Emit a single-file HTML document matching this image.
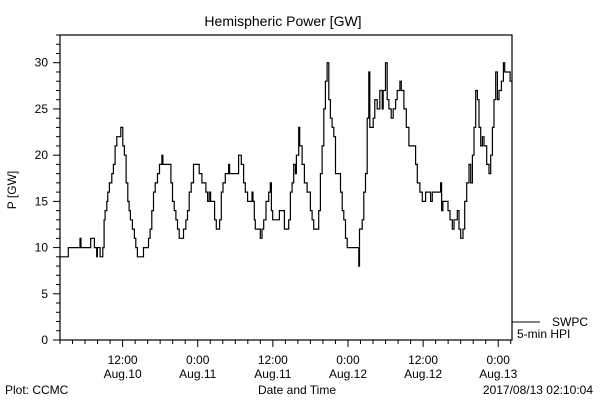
<!DOCTYPE html>
<html><head><meta charset="utf-8">
<style>
body{margin:0;background:#fff;}
svg{display:block;font-family:"Liberation Sans",sans-serif;}
text{fill:#000;font-size:12px;}
</style></head>
<body>
<svg id="chart" width="600" height="400" viewBox="0 0 600 400">
<rect x="0" y="0" width="600" height="400" fill="#fff"/>
<text x="283" y="26" text-anchor="middle" style="font-size:14px">Hemispheric Power [GW]</text>
<text x="16" y="190" text-anchor="middle" transform="rotate(-90 16 190)">P [GW]</text>
<text x="297" y="394" text-anchor="middle">Date and Time</text>
<text x="5" y="394">Plot: CCMC</text>
<text x="593" y="394" text-anchor="end">2017/08/13 02:10:04</text>
<g id="axes"></g>
<g id="series"></g>
<line x1="512" y1="322" x2="540" y2="322" stroke="#000"/>
<text x="552" y="326">SWPC</text>
<text x="517" y="338">5-min HPI</text>
</svg>
<script>
// hours since 2017-08-10 00:00
const times = [2.1,3.33,5.2,5.36,6.91,7.49,7.87,7.97,8.4,8.83,9.04,9.2,9.47,9.63,9.89,10.27,10.53,10.8,11.07,11.71,12.03,12.29,12.56,12.83,13.04,13.25,13.57,13.89,14.11,14.37,15.33,16.13,16.4,16.67,16.93,17.2,17.57,17.89,18.27,18.43,19.71,19.97,20.24,20.51,20.77,21.04,21.73,22.11,22.37,22.64,22.96,23.33,24.24,24.67,25.31,25.57,25.84,26.05,26.69,26.96,27.49,27.76,28.03,28.4,28.93,29.09,30.53,30.96,31.33,31.6,31.97,32.67,32.83,33.04,33.2,34.0,34.27,34.53,34.91,35.33,35.6,35.76,35.97,37.04,37.84,38.53,38.8,39.07,39.33,39.6,39.76,40.13,40.29,40.67,41.04,41.47,42.0,42.27,42.53,43.33,43.6,43.87,44.13,44.4,44.67,44.93,45.2,45.47,45.73,46.0,46.8,47.07,47.33,47.6,47.87,49.73,49.84,50.27,50.53,50.8,51.07,51.33,51.49,52.03,52.29,52.67,53.09,53.47,53.63,54.0,54.27,54.53,54.91,55.23,55.6,55.87,56.29,56.51,56.93,57.31,57.73,58.8,59.07,59.49,59.87,60.4,61.2,61.47,62.8,62.96,63.17,63.97,64.29,64.67,64.93,65.47,65.73,66.0,66.37,66.64,66.96,67.33,67.6,67.87,68.13,68.4,68.67,68.93,69.2,69.47,69.73,70.16,70.53,70.8,71.07,71.33,71.6,71.87,72.13,72.51,72.83,73.04,73.89];
const values = [9,10,11,10,11,10,9,10,9,10,13,14,15,16,17,18,19,21,22,23,21,20,17,15,14,13,12,11,10,9,10,11,12,14,16,17,18,19,20,19,17,15,14,13,12,11,12,13,14,16,17,19,18,17,16,15,16,15,13,12,13,16,17,18,19,18,20,19,17,16,15,16,15,13,12,11,12,13,15,16,17,14,13,14,12,13,16,17,19,18,20,23,21,19,17,16,14,13,12,14,18,21,25,28,30,26,24,23,22,18,16,14,13,11,10,8,12,13,16,18,24,29,23,24,26,25,27,25,27,30,26,25,24,25,26,27,28,27,25,23,21,19,17,16,15,16,15,16,17,14,15,14,13,12,13,14,12,11,12,15,17,19,17,20,23,27,26,23,21,22,21,19,18,20,23,26,29,26,27,28,30,29,28];
const yTickLabels = ["0","5","10","15","20","25","30"];
const xTickHours = [12,24,36,48,60,72];
const xTickLabels = [["12:00","Aug.10"],["0:00","Aug.11"],["12:00","Aug.11"],["0:00","Aug.12"],["12:00","Aug.12"],["0:00","Aug.13"]];

const L=60,R=512,T=35,B=340,H0=2.0,H1=74.2,YMAX=33;
const xs=h=>L+(h-H0)/(H1-H0)*(R-L);
const ys=v=>B-v/YMAX*(B-T);
const NS="http://www.w3.org/2000/svg";
const ax=document.getElementById('axes'), se=document.getElementById('series');
function mk(tag,attrs,parent){const e=document.createElementNS(NS,tag);for(const k in attrs)e.setAttribute(k,attrs[k]);parent.appendChild(e);return e;}

const frame=mk('rect',{x:L,y:T,width:R-L,height:B-T,fill:'none',stroke:'#000','stroke-width':1.2},ax);



for(let v=0;v<=YMAX;v++){
  const major=v%5===0;
  const t=mk('line',{x1:L-(major?7:4),x2:L,y1:ys(v),y2:ys(v),stroke:'#000'},ax);
  
  
}
yTickLabels.forEach(s=>{
  const tx=mk('text',{x:L-12,y:ys(+s)+4,'text-anchor':'end'},ax);
  tx.textContent=s;
  
  
});
for(let h=Math.ceil(H0/2)*2;h<=H1;h+=2){
  const major=h%12===0;
  const t=mk('line',{x1:xs(h),x2:xs(h),y1:B,y2:B+(major?7:4),stroke:'#000'},ax);
  
  
}
xTickHours.forEach((h,i)=>{
  const tx=mk('text',{x:xs(h),y:B+24,'text-anchor':'middle'},ax);
  tx.textContent=xTickLabels[i][0];
  
  
  const tx2=mk('text',{x:xs(h),y:B+38,'text-anchor':'middle'},ax);
  tx2.textContent=xTickLabels[i][1];
  
  
});

let d='M'+xs(H0)+' '+ys(values[0]);
for(let i=0;i<times.length;i++){
  d+=' L'+xs(times[i]).toFixed(1)+' '+(i?ys(values[i-1]):ys(values[0])).toFixed(1);
  d+=' L'+xs(times[i]).toFixed(1)+' '+ys(values[i]).toFixed(1);
}
d+=' L'+xs(H1).toFixed(1)+' '+ys(values[values.length-1]).toFixed(1);
const p=mk('path',{d:d,fill:'none',stroke:'#000','stroke-width':1.2},se);


</script>
</body></html>
